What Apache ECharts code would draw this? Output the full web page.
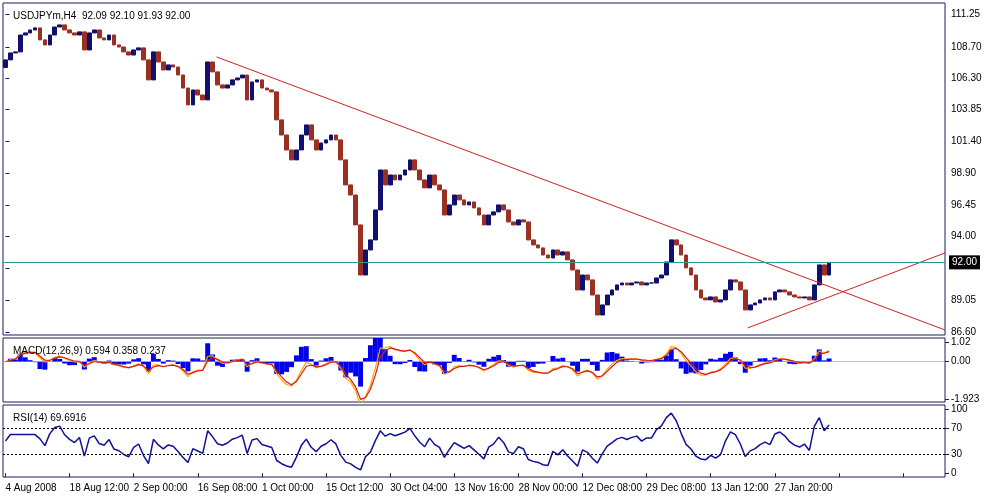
<!DOCTYPE html>
<html><head><meta charset="utf-8">
<script src="https://cdn.jsdelivr.net/npm/echarts@6/dist/echarts.min.js"></script>
<style>html,body{margin:0;padding:0;background:#fff}#c{width:989px;height:496px}</style>
</head><body><div id="c"></div>
<script>
const closes = [107.69,108.23,108.31,109.62,109.78,110.01,110.17,109.24,108.85,109.62,110.24,110.40,110.01,109.78,109.62,109.86,108.46,109.78,110.01,109.39,109.24,109.62,108.85,108.69,108.31,108.07,108.46,108.62,107.69,106.14,108.31,107.53,106.91,107.30,107.14,106.52,105.51,104.20,105.36,104.97,104.59,107.53,106.76,105.75,105.51,105.75,106.14,106.29,106.52,104.59,105.98,106.14,105.51,105.36,105.21,103.04,101.87,100.71,99.94,100.71,101.87,102.65,101.49,100.71,101.25,101.49,101.87,101.49,99.94,98.00,97.22,94.90,91.02,92.96,93.74,96.06,99.16,98.00,98.77,98.39,98.77,99.16,99.94,99.16,98.39,97.77,98.77,98.00,97.61,95.67,96.45,97.22,96.84,96.45,96.68,96.22,95.67,94.90,95.67,95.91,96.45,96.06,95.13,94.90,95.29,95.13,93.74,93.35,93.12,92.57,92.34,92.96,92.57,92.81,92.19,91.41,89.86,91.02,90.64,89.47,87.92,88.70,89.47,89.86,90.25,90.40,90.25,90.40,90.48,90.25,90.40,90.40,90.79,91.02,92.03,93.74,93.35,92.57,91.57,91.02,89.86,89.24,89.09,89.32,88.93,89.09,89.86,90.64,90.48,89.86,88.31,88.70,88.85,89.09,89.24,89.09,89.71,89.86,89.71,89.47,89.32,89.24,89.32,89.09,90.25,91.80,91.02,92.00];
const firstOpen = 107.10;
// Time-axis tick labels (one every 13 samples)
const tickLabels = ["4 Aug 2008","18 Aug 12:00","2 Sep 00:00","16 Sep 08:00","1 Oct 00:00","15 Oct 12:00","30 Oct 04:00","13 Nov 16:00","28 Nov 00:00","12 Dec 08:00","29 Dec 08:00","13 Jan 12:00","27 Jan 20:00"];
const priceTicks = [86.60,89.05,91.55,94.00,96.45,98.90,101.40,103.85,106.30,108.70,111.25];
const macdTicks = [-1.923,0,1.02];
const rsiTicks = [0,30,70,100];
// Trendlines: [sampleIndex, price]
const downTrend = [[42.8,107.92],[190.5,86.76]];
const upTrend = [[150.5,86.92],[190.5,92.73]];
const lastPrice = 92.00;

const N = 191, STEP = 13;
const cats = [];
for (let i = 0; i < N; i++) cats.push(i % STEP === 0 && tickLabels[i/STEP] ? tickLabels[i/STEP] : '');
const candles = closes.map((c,i)=>{const o = i? closes[i-1] : firstOpen; return [o, c, Math.min(o,c), Math.max(o,c)];});

function ema(a,p){const k=2/(p+1);const r=[];a.forEach((v,i)=>r.push(i?v*k+r[i-1]*(1-k):v));return r;}
const ef = ema(closes,3), es = ema(closes,6);
const macd = ef.map((v,i)=>v-es[i]);
const sig = ema(macd,2);
const hist = macd.map((v,i)=>v-sig[i]);
const rsi = [];
let ag=0, al=0; const P=5;
closes.forEach((c,i)=>{ if(!i){rsi.push(50);return;} const d=c-closes[i-1];
  ag=(ag*(P-1)+Math.max(d,0))/P; al=(al*(P-1)+Math.max(-d,0))/P;
  rsi.push(al===0?60:100-100/(1+ag/al)); });

const F = 'Liberation Sans', FS = 10, TC = '#000';
const border = '#1c1c5c';
const baseX = (gi, showLabels) => ({type:'category', gridIndex:gi, data:cats, boundaryGap:true,
  axisLine:{show:false}, axisTick:{show:showLabels, interval:(i)=>i%STEP===0, length:4, lineStyle:{color:border}, alignWithLabel:true},
  axisLabel:{show:showLabels, interval:(i)=>i%STEP===0, align:'left', margin:6, fontFamily:F, fontSize:FS, color:TC},
  splitLine:{show:false}});
const rightY = (gi,min,max,vals,fmt) => ({type:'value', gridIndex:gi, position:'right', min, max,
  axisLine:{show:false}, splitLine:{show:false},
  axisTick:{show:true, customValues:vals, length:4, inside:false, lineStyle:{color:border}},
  axisLabel:{customValues:vals, formatter:fmt, fontFamily:F, fontSize:FS, color:TC, margin:6}});

const chart = echarts.init(document.getElementById('c'));
chart.setOption({
  animation:false, backgroundColor:'#fff',
  grid:[
    {left:3, right:44, top:3, height:332, show:true, borderColor:border, borderWidth:1},
    {left:3, right:44, top:338, height:64, show:true, borderColor:border, borderWidth:1},
    {left:3, right:44, top:405, height:72, show:true, borderColor:border, borderWidth:1}],
  xAxis:[baseX(0,false), baseX(1,false), baseX(2,true),
    {type:'value', gridIndex:0, min:-0.5, max:N-0.5, show:false}],
  yAxis:[rightY(0,86.37,112.10,priceTicks,v=>v===91.55?'':v.toFixed(2)),
         rightY(1,-2.07,1.22,macdTicks,v=>v===-1.923?'-1.923':v.toFixed(2)),
         rightY(2,-6,106,rsiTicks,v=>String(v))],
  title:[
    {text:'USDJPYm,H4  92.09 92.10 91.93 92.00', left:8, top:6, textStyle:{fontFamily:F,fontSize:FS,fontWeight:'normal',color:TC}},
    {text:'MACD(12,26,9) 0.594 0.358 0.237', left:8, top:341, textStyle:{fontFamily:F,fontSize:FS,fontWeight:'normal',color:TC}},
    {text:'RSI(14) 69.6916', left:8, top:408, textStyle:{fontFamily:F,fontSize:FS,fontWeight:'normal',color:TC}}],
  series:[
    {type:'line', xAxisIndex:3, yAxisIndex:0, data:downTrend, showSymbol:false, silent:true, lineStyle:{color:'#d42020',width:1}},
    {type:'line', xAxisIndex:3, yAxisIndex:0, data:upTrend, showSymbol:false, silent:true, lineStyle:{color:'#d42020',width:1}},
    {type:'candlestick', xAxisIndex:0, yAxisIndex:0, data:candles, barWidth:'85%',
     itemStyle:{color:'#10106e', color0:'#9b2f22', borderColor:'#10106e', borderColor0:'#9b2f22', borderWidth:1},
     markLine:{symbol:'none', silent:true, animation:false,
       data:[
        {yAxis:lastPrice, lineStyle:{color:'#2a9d8f',type:'solid',width:1},
         label:{show:true, position:'end', formatter:'92.00', backgroundColor:'#000', color:'#fff', fontFamily:F, fontSize:FS, padding:[2,3], distance:4}}],
       label:{show:false}}},
    {type:'bar', xAxisIndex:1, yAxisIndex:1, data:hist.map(v=>v*4), barWidth:'100%', itemStyle:{color:'#0000ee'}},
    {type:'line', xAxisIndex:1, yAxisIndex:1, data:macd, showSymbol:false, lineStyle:{color:'#ffa500',width:1.2}},
    {type:'line', xAxisIndex:1, yAxisIndex:1, data:sig, showSymbol:false, lineStyle:{color:'#d41a1a',width:1.2},
     markLine:{symbol:'none',silent:true,data:[{yAxis:0}],lineStyle:{color:'#888',type:'solid',width:0.5},label:{show:false}}},
    {type:'line', xAxisIndex:2, yAxisIndex:2, data:rsi, showSymbol:false, lineStyle:{color:'#10109a',width:1.5},
     markLine:{symbol:'none',silent:true,data:[{yAxis:70},{yAxis:30}],lineStyle:{color:'#000',type:[2,2],width:1},label:{show:false}}}
  ]
});
</script></body></html>
